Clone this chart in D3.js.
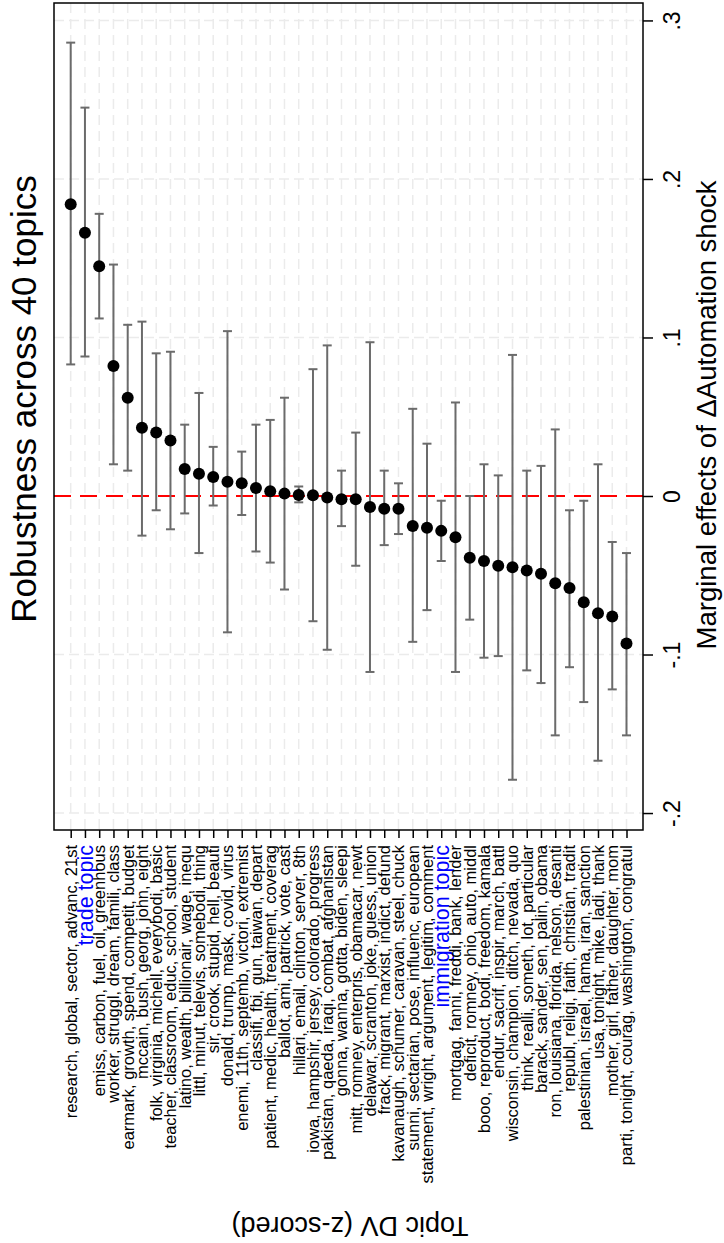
<!DOCTYPE html>
<html>
<head>
<meta charset="utf-8">
<script src="https://cdn.jsdelivr.net/npm/d3@7"></script>
<style>
  body { margin: 0; background: #fff; }
  svg { display: block; font-family: "Liberation Sans", Arial, Helvetica, sans-serif; }
</style>
</head>
<body>
<svg id="chart" width="724" height="1243"></svg>
<script>
const topics = [
  "research, global, sector, advanc, 21st",
  "trade topic",
  "emiss, carbon, fuel, oil, greenhous",
  "worker, struggl, dream, famili, class",
  "earmark, growth, spend, competit, budget",
  "mccain, bush, georg, john, eight",
  "folk, virginia, michell, everybodi, basic",
  "teacher, classroom, educ, school, student",
  "latino, wealth, billionair, wage, inequ",
  "littl, minut, televis, somebodi, thing",
  "sir, crook, stupid, hell, beauti",
  "donald, trump, mask, covid, virus",
  "enemi, 11th, septemb, victori, extremist",
  "classifi, fbi, gun, taiwan, depart",
  "patient, medic, health, treatment, coverag",
  "ballot, ami, patrick, vote, cast",
  "hillari, email, clinton, server, 8th",
  "iowa, hampshir, jersey, colorado, progress",
  "pakistan, qaeda, iraqi, combat, afghanistan",
  "gonna, wanna, gotta, biden, sleepi",
  "mitt, romney, enterpris, obamacar, newt",
  "delawar, scranton, joke, guess, union",
  "frack, migrant, marxist, indict, defund",
  "kavanaugh, schumer, caravan, steel, chuck",
  "sunni, sectarian, pose, influenc, european",
  "statement, wright, argument, legitim, comment",
  "immigration topic",
  "mortgag, fanni, freddi, bank, lender",
  "deficit, romney, ohio, auto, middl",
  "booo, reproduct, bodi, freedom, kamala",
  "endur, sacrif, inspir, march, battl",
  "wisconsin, champion, ditch, nevada, quo",
  "think, realli, someth, lot, particular",
  "barack, sander, sen, palin, obama",
  "ron, louisiana, florida, nelson, desanti",
  "republ, religi, faith, christian, tradit",
  "palestinian, israel, hama, iran, sanction",
  "usa, tonight, mike, ladi, thank",
  "mother, girl, father, daughter, mom",
  "parti, tonight, courag, washington, congratul"
];
const highlighted = ["trade topic", "immigration topic"];

const estimates = [
  0.184, 0.166, 0.145, 0.082, 0.062, 0.043, 0.040, 0.035, 0.017, 0.014,
  0.012, 0.009, 0.008, 0.005, 0.003, 0.0015, 0.0006, 0.0004, -0.001, -0.002,
  -0.002, -0.007, -0.008, -0.008, -0.019, -0.020, -0.022, -0.026, -0.039, -0.041,
  -0.044, -0.045, -0.047, -0.049, -0.055, -0.058, -0.067, -0.074, -0.076, -0.093
];
const lower = [
  0.083, 0.088, 0.112, 0.020, 0.016, -0.025, -0.009, -0.021, -0.011, -0.036,
  -0.006, -0.086, -0.012, -0.035, -0.042, -0.059, -0.004, -0.079, -0.097, -0.019,
  -0.044, -0.111, -0.031, -0.024, -0.092, -0.072, -0.041, -0.111, -0.078, -0.102,
  -0.101, -0.179, -0.110, -0.118, -0.151, -0.108, -0.130, -0.167, -0.122, -0.151
];
const upper = [
  0.286, 0.245, 0.178, 0.146, 0.108, 0.110, 0.090, 0.091, 0.045, 0.065,
  0.031, 0.104, 0.028, 0.045, 0.048, 0.062, 0.006, 0.080, 0.095, 0.016,
  0.040, 0.097, 0.016, 0.008, 0.055, 0.033, -0.003, 0.059, 0.000, 0.020,
  0.013, 0.089, 0.016, 0.019, 0.042, -0.009, -0.003, 0.020, -0.029, -0.036
];

const tickValues = [0.3, 0.2, 0.1, 0, -0.1, -0.2];
const tickLabels = [".3", ".2", ".1", "0", "-.1", "-.2"];

const svg = d3.select("#chart");
const plot = { left: 54, top: 3, right: 643, bottom: 830 };

const data = topics.map((t, i) => ({ topic: t, est: estimates[i], lo: lower[i], hi: upper[i] }));

const x = d3.scalePoint()
  .domain(topics)
  .range([70.7, 626.5]);

const y = d3.scaleLinear()
  .domain([-0.2107, 0.311])
  .range([plot.bottom, plot.top]);

// grid lines
svg.append("g")
  .selectAll("line")
  .data(topics)
  .join("line")
  .attr("x1", d => x(d)).attr("x2", d => x(d))
  .attr("y1", plot.top).attr("y2", plot.bottom)
  .attr("stroke", "#ebebeb")
  .attr("stroke-width", 1.5)
  .attr("stroke-dasharray", "10,6");

svg.append("g")
  .selectAll("line")
  .data(tickValues.filter(d => d !== 0))
  .join("line")
  .attr("x1", plot.left).attr("x2", plot.right)
  .attr("y1", d => y(d)).attr("y2", d => y(d))
  .attr("stroke", "#ebebeb")
  .attr("stroke-width", 1.5)
  .attr("stroke-dasharray", "10,5");

// zero line
svg.append("line")
  .attr("x1", plot.left).attr("x2", plot.right)
  .attr("y1", y(0)).attr("y2", y(0))
  .attr("stroke", "#ff0000")
  .attr("stroke-width", 2)
  .attr("stroke-dasharray", "17,9");

// error bars
const bars = svg.append("g").attr("stroke", "#6b6b6b").attr("stroke-width", 2);
bars.selectAll(".ci")
  .data(data)
  .join("line")
  .attr("class", "ci")
  .attr("x1", d => x(d.topic)).attr("x2", d => x(d.topic))
  .attr("y1", d => y(d.lo)).attr("y2", d => y(d.hi));
bars.selectAll(".capHi")
  .data(data)
  .join("line")
  .attr("class", "capHi")
  .attr("x1", d => x(d.topic) - 4.5).attr("x2", d => x(d.topic) + 4.5)
  .attr("y1", d => y(d.hi)).attr("y2", d => y(d.hi));
bars.selectAll(".capLo")
  .data(data)
  .join("line")
  .attr("class", "capLo")
  .attr("x1", d => x(d.topic) - 4.5).attr("x2", d => x(d.topic) + 4.5)
  .attr("y1", d => y(d.lo)).attr("y2", d => y(d.lo));

// points
svg.append("g")
  .selectAll("circle")
  .data(data)
  .join("circle")
  .attr("cx", d => x(d.topic))
  .attr("cy", d => y(d.est))
  .attr("r", 6)
  .attr("fill", "#000");

// frame
svg.append("rect")
  .attr("x", plot.left).attr("y", plot.top)
  .attr("width", plot.right - plot.left)
  .attr("height", plot.bottom - plot.top)
  .attr("fill", "none")
  .attr("stroke", "#000")
  .attr("stroke-width", 1.5);

// right value axis
const yAxis = svg.append("g")
  .attr("transform", `translate(${plot.right},0)`)
  .call(d3.axisRight(y).tickValues(tickValues).tickFormat((d, i) => tickLabels[i]).tickSize(10).tickSizeOuter(0));
yAxis.select(".domain").remove();
yAxis.selectAll("line").attr("stroke", "#000").attr("stroke-width", 1.5);
yAxis.selectAll("text")
  .attr("x", null).attr("dy", null)
  .attr("transform", "translate(37,0) rotate(-90)")
  .attr("text-anchor", "middle")
  .attr("fill", "#000")
  .style("font-size", "23px")
  .style("font-family", "inherit");

// bottom category axis
const xAxis = svg.append("g")
  .attr("transform", `translate(0,${plot.bottom})`)
  .call(d3.axisBottom(x).tickSize(8).tickSizeOuter(0).tickFormat(""));
xAxis.select(".domain").remove();
xAxis.selectAll("line").attr("stroke", "#000").attr("stroke-width", 1.5);

svg.append("g")
  .selectAll("text")
  .data(topics)
  .join("text")
  .attr("transform", d => `translate(${x(d)},845) rotate(-90)`)
  .attr("text-anchor", "end")
  .attr("dy", "0.36em")
  .attr("fill", d => highlighted.includes(d) ? "#0000ff" : "#000")
  .style("font-size", d => highlighted.includes(d) ? "21.5px" : "16.5px")
  .text(d => d);

// titles
svg.append("text")
  .attr("transform", "translate(36,399) rotate(-90)")
  .attr("text-anchor", "middle")
  .style("font-size", "35px")
  .text("Robustness across 40 topics");

svg.append("text")
  .attr("transform", "translate(716,415) rotate(-90)")
  .attr("text-anchor", "middle")
  .style("font-size", "27.5px")
  .text("Marginal effects of \u0394Automation shock");

svg.append("text")
  .attr("transform", "translate(350,1217) rotate(180)")
  .attr("text-anchor", "middle")
  .style("font-size", "27px")
  .text("Topic DV (z-scored)");
</script>
</body>
</html>
